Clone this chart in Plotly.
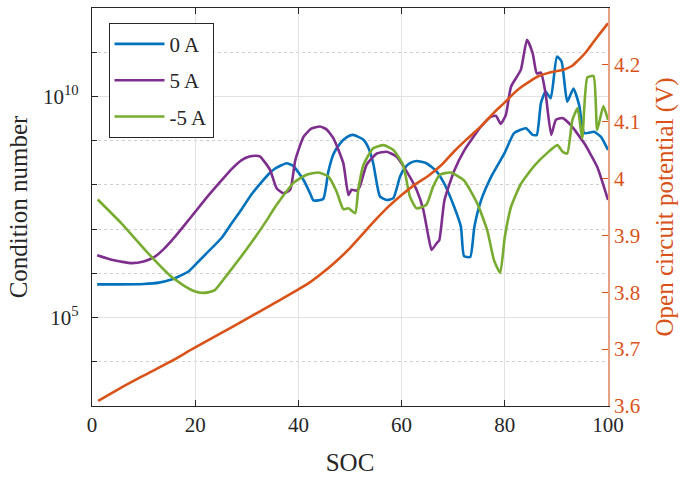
import numpy as np
import plotly.graph_objects as go

# State of charge (%) and log10 of the condition number for each current
soc_0A = [1, 5, 10, 13, 15.4, 17, 18.7, 20, 22, 25.1, 27, 29, 31, 34.2, 35.5, 37.7, 39, 41, 42.3,
          42.9, 44.8, 45.8, 46.8, 48.1, 49.4, 50.6, 52.6, 53.6, 54.5, 55.8, 57.1, 58.4, 59.7, 60.6,
          61.6, 62.9, 64.8, 66.8, 68.3, 70.2, 71.5, 72.1, 73.3, 74.1, 75.4, 77.3, 80, 81.8, 84.1,
          85.4, 86.2, 87, 87.9, 88.9, 90.1, 91, 92.1, 93.3, 94.4, 95.4, 97.3, 98.6, 100]
logk_0A = [5.75, 5.75, 5.76, 5.79, 5.86, 5.94, 6.04, 6.19, 6.43, 6.8, 7.12, 7.45, 7.8, 8.24, 8.37,
           8.49, 8.43, 8.11, 7.8, 7.65, 7.68, 8.3, 8.7, 8.94, 9.08, 9.13, 9.02, 8.83, 8.49, 7.74,
           7.66, 7.7, 8.19, 8.38, 8.49, 8.54, 8.49, 8.3, 8.02, 7.5, 7.05, 6.39, 6.37, 7.05, 7.65,
           8.17, 8.73, 9.17, 9.28, 9.13, 9.13, 9.85, 10.11, 9.96, 10.9, 10.79, 9.88, 10.18, 9.81,
           9.17, 9.2, 9.09, 8.79]

soc_5A = [1, 4, 7.7, 10, 12.2, 14, 16.1, 18, 20, 22.5, 25.1, 27, 29, 30.5, 31.8, 32.6, 34.5, 35.8,
          37.1, 38.4, 39.4, 41, 42.5, 44.2, 45.5, 46.8, 48.7, 49.7, 50.3, 51.3, 51.9, 53.2, 55.2,
          57.1, 59, 61, 62.9, 64.2, 65.2, 65.8, 66.8, 67.3, 68.3, 70.2, 72.1, 75.4, 77.3, 78.3,
          79.2, 80.2, 81.2, 83.1, 84.3, 85.4, 86.2, 87, 87.9, 89, 89.9, 91.2, 92.8, 95.4, 97.9, 100]
logk_5A = [6.41, 6.3, 6.23, 6.27, 6.38, 6.56, 6.83, 7.1, 7.39, 7.75, 8.1, 8.35, 8.56, 8.64, 8.66,
           8.64, 8.34, 7.92, 7.81, 7.89, 8.56, 9.09, 9.27, 9.32, 9.25, 9.05, 8.49, 7.77, 7.89, 7.87,
           7.96, 8.45, 8.71, 8.75, 8.64, 8.3, 7.89, 7.44, 6.83, 6.53, 6.68, 6.75, 7.65, 8.32, 8.77,
           9.32, 9.54, 9.56, 9.38, 9.58, 10.22, 10.6, 11.28, 10.98, 10.52, 10.54, 10.07, 9.13, 9.47,
           9.51, 9.35, 8.94, 8.41, 7.66]

soc_m5A = [1.1, 5.7, 10.9, 15.4, 18.7, 20, 21.2, 22.5, 23.8, 26.4, 30.3, 34.2, 35.2, 39, 41.6,
           43.9, 45.8, 47.4, 48.7, 49.7, 51, 51.6, 52.6, 54.5, 56.5, 58.4, 60.3, 61.6, 62.9, 64.8,
           66.1, 67.4, 69.5, 72.1, 74.7, 76.6, 77.9, 79.1, 80, 81.2, 83.1, 85.7, 88.3, 90.2, 91.2,
           92.1, 93.1, 94.1, 95, 96, 97.2, 97.9, 99.1, 100]
logk_m5A = [7.67, 7.13, 6.45, 5.92, 5.66, 5.59, 5.56, 5.57, 5.62, 6.0, 6.6, 7.26, 7.45, 8.04, 8.23,
            8.28, 8.19, 7.85, 7.45, 7.47, 7.36, 7.89, 8.45, 8.83, 8.9, 8.79, 8.45, 7.74, 7.47, 7.55,
            7.96, 8.23, 8.28, 8.1, 7.57, 6.97, 6.3, 6.01, 6.82, 7.5, 8.02, 8.43, 8.73, 8.9, 8.75,
            8.71, 9.47, 9.73, 9.05, 10.43, 10.46, 9.24, 9.78, 9.47]

# Open circuit potential (V)
soc_ocp = [1.2, 5, 9.7, 15, 20, 25, 30.3, 35, 39.4, 42, 44.5, 47, 49.7, 52, 54.8, 57.5, 60, 62.5,
           65.2, 67.5, 70.3, 72.5, 75.5, 78, 80, 82, 83.2, 85, 86.5, 88.9, 91.5, 93, 94.1, 95.5,
           96.6, 98, 100]
ocp = [3.609, 3.629, 3.652, 3.677, 3.703, 3.728, 3.755, 3.779, 3.802, 3.816, 3.833, 3.852, 3.875,
       3.898, 3.926, 3.951, 3.971, 3.989, 4.005, 4.022, 4.049, 4.068, 4.093, 4.117, 4.134, 4.152,
       4.161, 4.172, 4.18, 4.187, 4.192, 4.198, 4.207, 4.22, 4.233, 4.25, 4.273]

series = [("0 A", soc_0A, logk_0A, "#0072BD"),
          ("5 A", soc_5A, logk_5A, "#7E2F8E"),
          ("-5 A", soc_m5A, logk_m5A, "#77AC30")]

ORANGE = "#D95319"
FONT = "'Liberation Serif', 'DejaVu Serif', 'Times New Roman', serif"

fig = go.Figure()
for i, (name, s, lk, col) in enumerate(series):
    fig.add_trace(go.Scatter(x=s, y=np.power(10.0, lk), mode="lines", name=name,
                             line=dict(color=col, width=2.6, shape="spline", smoothing=0.5),
                             legendgroup=f"g{i}", yaxis="y"))
fig.add_trace(go.Scatter(x=soc_ocp, y=ocp, mode="lines", showlegend=False,
                         line=dict(color=ORANGE, width=2.6, shape="spline", smoothing=1.0),
                         yaxis="y2"))

decades = [10.0 ** k for k in range(3, 13)]

fig.update_layout(
    width=681, height=484,
    margin=dict(l=92, r=73, t=8, b=78),
    plot_bgcolor="white", paper_bgcolor="white",
    font=dict(family=FONT, size=21, color="#262626"),
    showlegend=True,
    legend=dict(x=0.032, y=0.963, xanchor="left", yanchor="top",
                bgcolor="white", bordercolor="#262626", borderwidth=1,
                font=dict(family=FONT, size=21, color="#262626"),
                itemwidth=50, tracegroupgap=6, traceorder="grouped"),
    xaxis=dict(range=[0, 100], tickvals=[0, 20, 40, 60, 80, 100],
               showline=True, linecolor="#262626", linewidth=1.2, mirror="ticks",
               ticks="inside", ticklen=6, tickcolor="#262626",
               showgrid=True, gridcolor="#e2e2e2", gridwidth=1, zeroline=False,
               title=dict(text="SOC", standoff=17)),
    yaxis=dict(type="log", range=[3, 12],
               tickvals=[1e5, 1e10], ticktext=["10<sup>5</sup>", "10<sup>10</sup>"],
               ticklabelstandoff=8,
               showline=True, linecolor="#262626", linewidth=1.2,
               ticks="inside", ticklen=6, tickcolor="#262626",
               showgrid=True, gridcolor="#e2e2e2", gridwidth=1, zeroline=False,
               minor=dict(tickvals=decades, ticks="inside", ticklen=5, tickcolor="#262626",
                          showgrid=True, gridcolor="#cfcfcf", griddash="dot", gridwidth=1),
               title=dict(text="Condition number", standoff=8)),
    yaxis2=dict(overlaying="y", side="right", range=[3.6, 4.3],
                tickvals=[3.6, 3.7, 3.8, 3.9, 4.0, 4.1, 4.2],
                ticktext=["3.6", "3.7", "3.8", "3.9", "4", "4.1", "4.2"],
                showline=True, linecolor="#E8A084", linewidth=1.5,
                ticks="inside", ticklen=6, tickcolor=ORANGE,
                tickfont=dict(color=ORANGE), showgrid=False, zeroline=False,
                title=dict(text="Open circuit potential (V)", font=dict(color=ORANGE),
                           standoff=16)),
)

fig.write_html("out.html")
